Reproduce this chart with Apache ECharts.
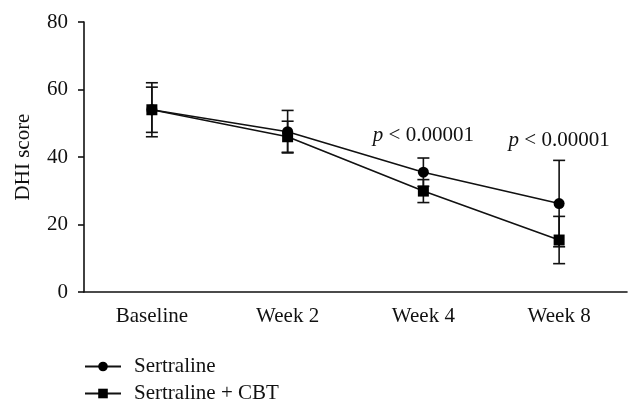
<!DOCTYPE html>
<html><head><meta charset="utf-8">
<script src="https://cdn.jsdelivr.net/npm/echarts@6/dist/echarts.min.js"></script>
<style>html,body{margin:0;padding:0;background:#fff}#c{width:642px;height:415px}</style>
</head><body><div id="c"></div>
<script>
var categories = ['Baseline', 'Week 2', 'Week 4', 'Week 8'];
var sertraline = [54, 47.5, 35.5, 26.2];
var sertralineErr = [8, 6.3, 4.2, 12.8];
var sertralineCBT = [54, 46, 29.9, 15.4];
var sertralineCBTErr = [6.7, 4.6, 3.4, 7];
var yTicks = [0, 20, 40, 60, 80];
var pCategories = ['Week 4', 'Week 8'];
var pValues = [46.4, 45];
var pText = 'p < 0.00001';

var FONT = '"Liberation Serif", "Times New Roman", serif';
var FS = 21;

function errData(vals, errs) {
  return vals.map(function (v, i) { return [i, v - errs[i], v + errs[i]]; });
}
function errRender(params, api) {
  var x = api.value(0);
  var lo = api.coord([x, api.value(1)]);
  var hi = api.coord([x, api.value(2)]);
  var w = 6;
  var st = { stroke: '#111', lineWidth: 1.6 };
  return { type: 'group', children: [
    { type: 'line', shape: { x1: lo[0], y1: lo[1], x2: hi[0], y2: hi[1] }, style: st },
    { type: 'line', shape: { x1: lo[0] - w, y1: lo[1], x2: lo[0] + w, y2: lo[1] }, style: st },
    { type: 'line', shape: { x1: hi[0] - w, y1: hi[1], x2: hi[0] + w, y2: hi[1] }, style: st }
  ]};
}
function legendAt(name, top) {
  return {
    orient: 'horizontal', left: 84, top: top, padding: 0, itemWidth: 36, itemHeight: 12,
    data: [name],
    textStyle: { fontFamily: FONT, fontSize: FS, color: '#111', padding: [0, 0, 0, 8] }
  };
}

var chart = echarts.init(document.getElementById('c'), null, { renderer: 'canvas' });
chart.setOption({
  animation: false,
  backgroundColor: '#fff',
  textStyle: { fontFamily: FONT, color: '#111' },
  grid: { left: 84, right: 15, top: 22, bottom: 123, containLabel: false },
  legend: [legendAt('Sertraline', 356), legendAt('Sertraline + CBT', 383)],
  xAxis: {
    type: 'category', data: categories, boundaryGap: true,
    axisLine: { lineStyle: { color: '#111', width: 1.6 } },
    axisTick: { alignWithLabel: true, length: 6, lineStyle: { color: '#111', width: 1.6 } },
    axisLabel: { fontFamily: FONT, fontSize: FS, color: '#111', margin: 14 }
  },
  yAxis: {
    type: 'value', min: yTicks[0], max: yTicks[yTicks.length - 1], interval: 20,
    name: 'DHI score', nameLocation: 'middle', nameGap: 50,
    nameTextStyle: { fontFamily: FONT, fontSize: FS, color: '#111' },
    axisLine: { show: true, lineStyle: { color: '#111', width: 1.6 } },
    axisTick: { show: true, length: 6, lineStyle: { color: '#111', width: 1.6 } },
    axisLabel: { fontFamily: FONT, fontSize: FS, color: '#111', margin: 16 },
    splitLine: { show: false }
  },
  series: [
    { type: 'custom', renderItem: errRender, data: errData(sertraline, sertralineErr), z: 1, silent: true },
    { type: 'custom', renderItem: errRender, data: errData(sertralineCBT, sertralineCBTErr), z: 1, silent: true },
    {
      name: 'Sertraline', type: 'line', data: sertraline, symbol: 'circle', symbolSize: 11,
      itemStyle: { color: '#000' }, lineStyle: { color: '#111', width: 1.6 }, z: 3,
      markPoint: {
        symbol: 'circle', symbolSize: 0,
        label: {
          show: true, position: 'inside', formatter: '{i|p} < 0.00001',
          fontFamily: FONT, fontSize: FS, color: '#111',
          rich: { i: { fontStyle: 'italic', fontFamily: FONT, fontSize: FS, color: '#111' } }
        },
        data: pCategories.map(function (c, i) { return { coord: [c, pValues[i]], value: pText }; })
      }
    },
    {
      name: 'Sertraline + CBT', type: 'line', data: sertralineCBT, symbol: 'rect', symbolSize: 11,
      itemStyle: { color: '#000' }, lineStyle: { color: '#111', width: 1.6 }, z: 3
    }
  ]
});
</script></body></html>
